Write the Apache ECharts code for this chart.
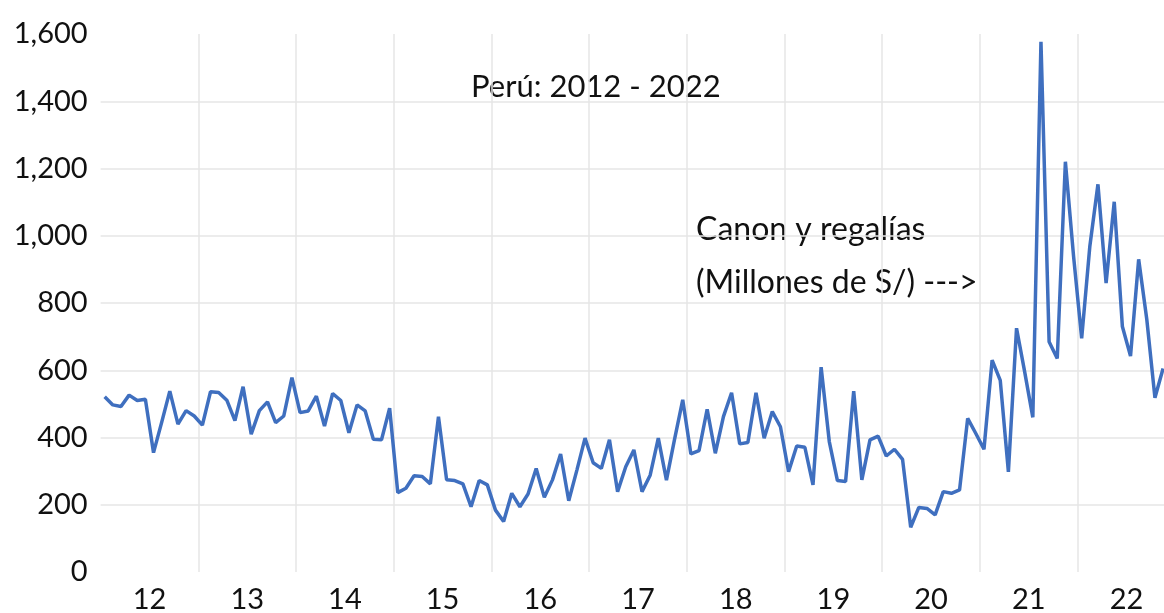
<!DOCTYPE html>
<html>
<head>
<meta charset="utf-8">
<script src="https://cdn.jsdelivr.net/npm/echarts@6/dist/echarts.min.js"></script>
<style>
  html, body { margin: 0; padding: 0; background: #fff; }
  #chart { width: 1164px; height: 613px; }
</style>
</head>
<body>
<div id="chart"></div>
<script>
// años mostrados en el eje x (dos dígitos)
const years = ['12', '13', '14', '15', '16', '17', '18', '19', '20', '21', '22']
const months = ['01', '02', '03', '04', '05', '06', '07', '08', '09', '10', '11', '12']
const yTicks = [0, 200, 400, 600, 800, 1000, 1200, 1400, 1600]

// Canon y regalías mensual, millones de S/ (ene-2012 ... nov-2022)
const canon = [
  521, 497, 492, 526, 510, 514, 355, 445, 538, 440, 480, 464,
  437, 536, 534, 511, 450, 551, 410, 480, 506, 444, 464, 578,
  474, 479, 523, 434, 531, 510, 414, 497, 479, 395, 393, 487,
  236, 249, 286, 284, 262, 462, 274, 272, 262, 194, 272, 259,
  184, 150, 234, 194, 232, 308, 222, 274, 351, 212, 303, 398,
  325, 308, 393, 239, 313, 363, 239, 288, 398, 273, 395, 512,
  351, 361, 484, 353, 462, 533, 381, 385, 533, 398, 477, 432,
  298, 375, 371, 259, 609, 388, 272, 269, 538, 274, 393, 404,
  345, 365, 335, 133, 192, 189, 170, 239, 234, 244, 457, 412,
  365, 630, 570, 298, 725, 595, 460, 1577, 685, 635, 1220, 940,
  695, 968, 1153, 859, 1101, 730, 642, 930, 751, 518, 605
]

const categories = []
years.forEach(y => months.forEach(m => categories.push(y + '-' + m)))

const font = 'Lato'
const chart = echarts.init(document.getElementById('chart'))

// la primera y última línea horizontal no se dibujan
const hGrid = yTicks.map((v, i) => (i === 0 || i === yTicks.length - 1) ? 'rgba(0,0,0,0)' : '#e6e6e6')

const option = {
  animation: false,
  backgroundColor: '#fff',
  // el área de trazado sigue más allá del borde derecho (recortada)
  grid: { left: 100.6, width: 1074.7, top: 34, bottom: 41, outerBoundsMode: 'none', containLabel: false },
  xAxis: {
    type: 'category',
    data: categories,
    boundaryGap: true,
    axisLine: { show: false },
    axisTick: { show: false },
    splitLine: {
      show: true,
      interval: (idx) => idx % 12 === 0 && idx > 0,
      lineStyle: { color: '#e6e6e6', width: 1.5 }
    },
    axisLabel: {
      interval: (idx) => idx % 12 === 6,
      formatter: (v) => v.split('-')[0],
      fontFamily: font,
      fontSize: 29,
      color: '#111',
      margin: 13,
      padding: [0, 8, 0, 0]
    }
  },
  yAxis: {
    type: 'value',
    min: 0,
    max: 1600,
    interval: 200,
    axisLine: { show: false },
    axisTick: { show: false },
    splitLine: { lineStyle: { color: hGrid, width: 1.5 } },
    axisLabel: {
      fontFamily: font,
      fontSize: 29,
      color: '#111',
      margin: 13,
      formatter: (v) => v.toLocaleString('en-US')
    }
  },
  graphic: [
    {
      type: 'text', left: 471, top: 71,
      style: { text: 'Perú: 2012 - 2022', font: '31px Lato', fill: '#111' }
    },
    {
      type: 'text', left: 696, top: 203,
      style: { text: 'Canon y regalías\n(Millones de S/) --->', font: '32px Lato', fill: '#111', lineHeight: 53 }
    }
  ],
  series: [
    {
      type: 'line',
      data: canon,
      symbol: 'none',
      smooth: false,
      lineStyle: { color: '#3f6fbf', width: 3.5 },
      clip: true
    }
  ]
}

chart.setOption(option)
</script>
</body>
</html>
